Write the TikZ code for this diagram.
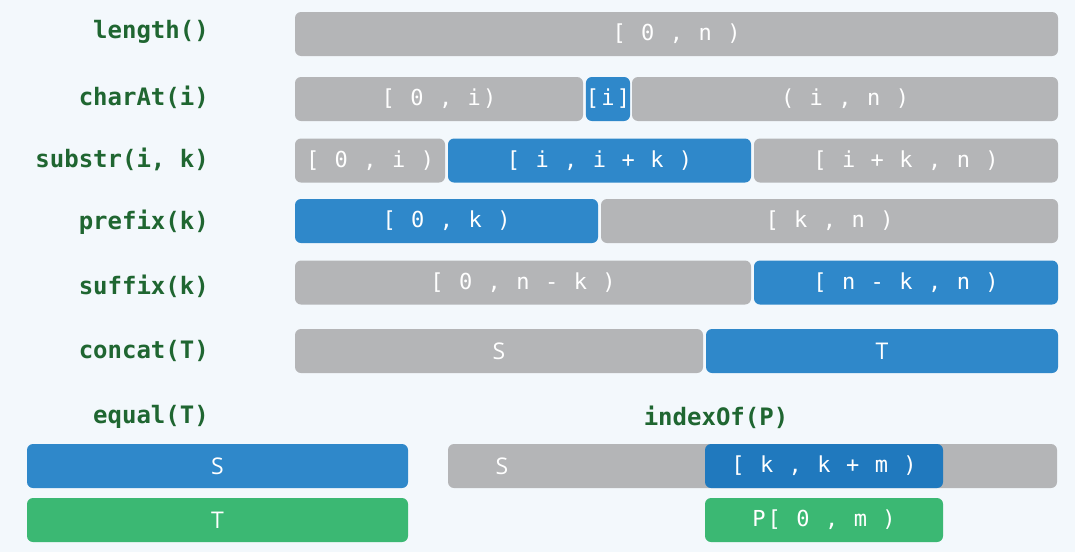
\documentclass[tikz,border=0pt]{standalone}
\usepackage{fontspec}
\usepackage{tikz}
\newfontfamily\opfont{DejaVu Sans Mono}[LetterSpace=10]
\newfontfamily\opboldfont{DejaVu Sans Mono Bold}
\newfontfamily\letterfont{Open Sans}
\definecolor{bgcol}{HTML}{F3F8FC}
\definecolor{barGray}{HTML}{B4B5B7}
\definecolor{barBlue}{HTML}{2F88CA}
\definecolor{barDeep}{HTML}{2079BE}
\definecolor{barGreen}{HTML}{3BB873}
\definecolor{opGreen}{HTML}{1F6631}

\begin{document}
\begin{tikzpicture}[x=1pt, y=-1pt,
bar/.style={rectangle, rounded corners=6pt, minimum height=44pt, inner sep=0pt, text=white, font=\opfont\fontsize{22}{24}\selectfont},
graybar/.style={bar, fill=barGray},
bluebar/.style={bar, fill=barBlue},
greenbar/.style={bar, fill=barGreen},
letter/.style={font=\letterfont\fontsize{23}{25}\selectfont},
oplabel/.style={text=opGreen, inner sep=0pt, font=\opboldfont\fontsize{24}{26}\selectfont},
]
    \fill[bgcol] (0,0) rectangle (1075,552);

    % length()
    \node [oplabel, anchor=east] (l1) at (209,32) {length()};
    \node [graybar, minimum width=763pt] (a1) at (676.5,34) {[ 0 , n )};

    % charAt(i)
    \node [oplabel, anchor=east] (l2) at (209,97) {charAt(i)};
    \node [graybar, minimum width=288pt] (b1) at (439,99) {[ 0 , i)};
    \node [bluebar, minimum width=44pt] (b2) at (608,99) {[i]};
    \node [graybar, minimum width=426pt] (b3) at (845,99) {( i , n )};

    % substr(i, k)
    \node [oplabel, anchor=east] (l3) at (209,159) {substr(i, k)};
    \node [graybar, minimum width=150pt] (c1) at (370,160.5) {[ 0 , i )};
    \node [bluebar, minimum width=303pt] (c2) at (599.5,160.5) {[ i , i + k )};
    \node [graybar, minimum width=304pt] (c3) at (906,160.5) {[ i + k , n )};

    % prefix(k)
    \node [oplabel, anchor=east] (l4) at (209,222) {prefix(k)};
    \node [bluebar, minimum width=303pt] (d1) at (446.5,221) {[ 0 , k )};
    \node [graybar, minimum width=457pt] (d2) at (829.5,221) {[ k , n )};

    % suffix(k)
    \node [oplabel, anchor=east] (l5) at (209,286) {suffix(k)};
    \node [graybar, minimum width=456pt] (e1) at (523,282.5) {[ 0 , n - k )};
    \node [bluebar, minimum width=304pt] (e2) at (906,282.5) {[ n - k , n )};

    % concat(T)
    \node [oplabel, anchor=east] (l6) at (209,351) {concat(T)};
    \node [graybar, letter, minimum width=408pt] (f1) at (499,351) {S};
    \node [bluebar, letter, minimum width=352pt] (f2) at (882,351) {T};

    % equal(T)
    \node [oplabel, anchor=east] (l7) at (209,417) {equal(T)};
    \node [bluebar, letter, minimum width=381pt] (g1) at (217.5,466) {S};
    \node [greenbar, letter, minimum width=381pt] (g2) at (217.5,520) {T};

    % indexOf(P)
    \node [oplabel] (l8) at (716,417) {indexOf(P)};
    \node [graybar, minimum width=609pt] (h1) at (752.5,466) {};
    \node [letter, text=white] (h0) at (502,466) {S};
    \node [bluebar, fill=barDeep, minimum width=238pt] (h2) at (824,466) {[ k , k + m )};
    \node [greenbar, minimum width=238pt] (h3) at (824,520) {P[ 0 , m )};
\end{tikzpicture}
\end{document}
